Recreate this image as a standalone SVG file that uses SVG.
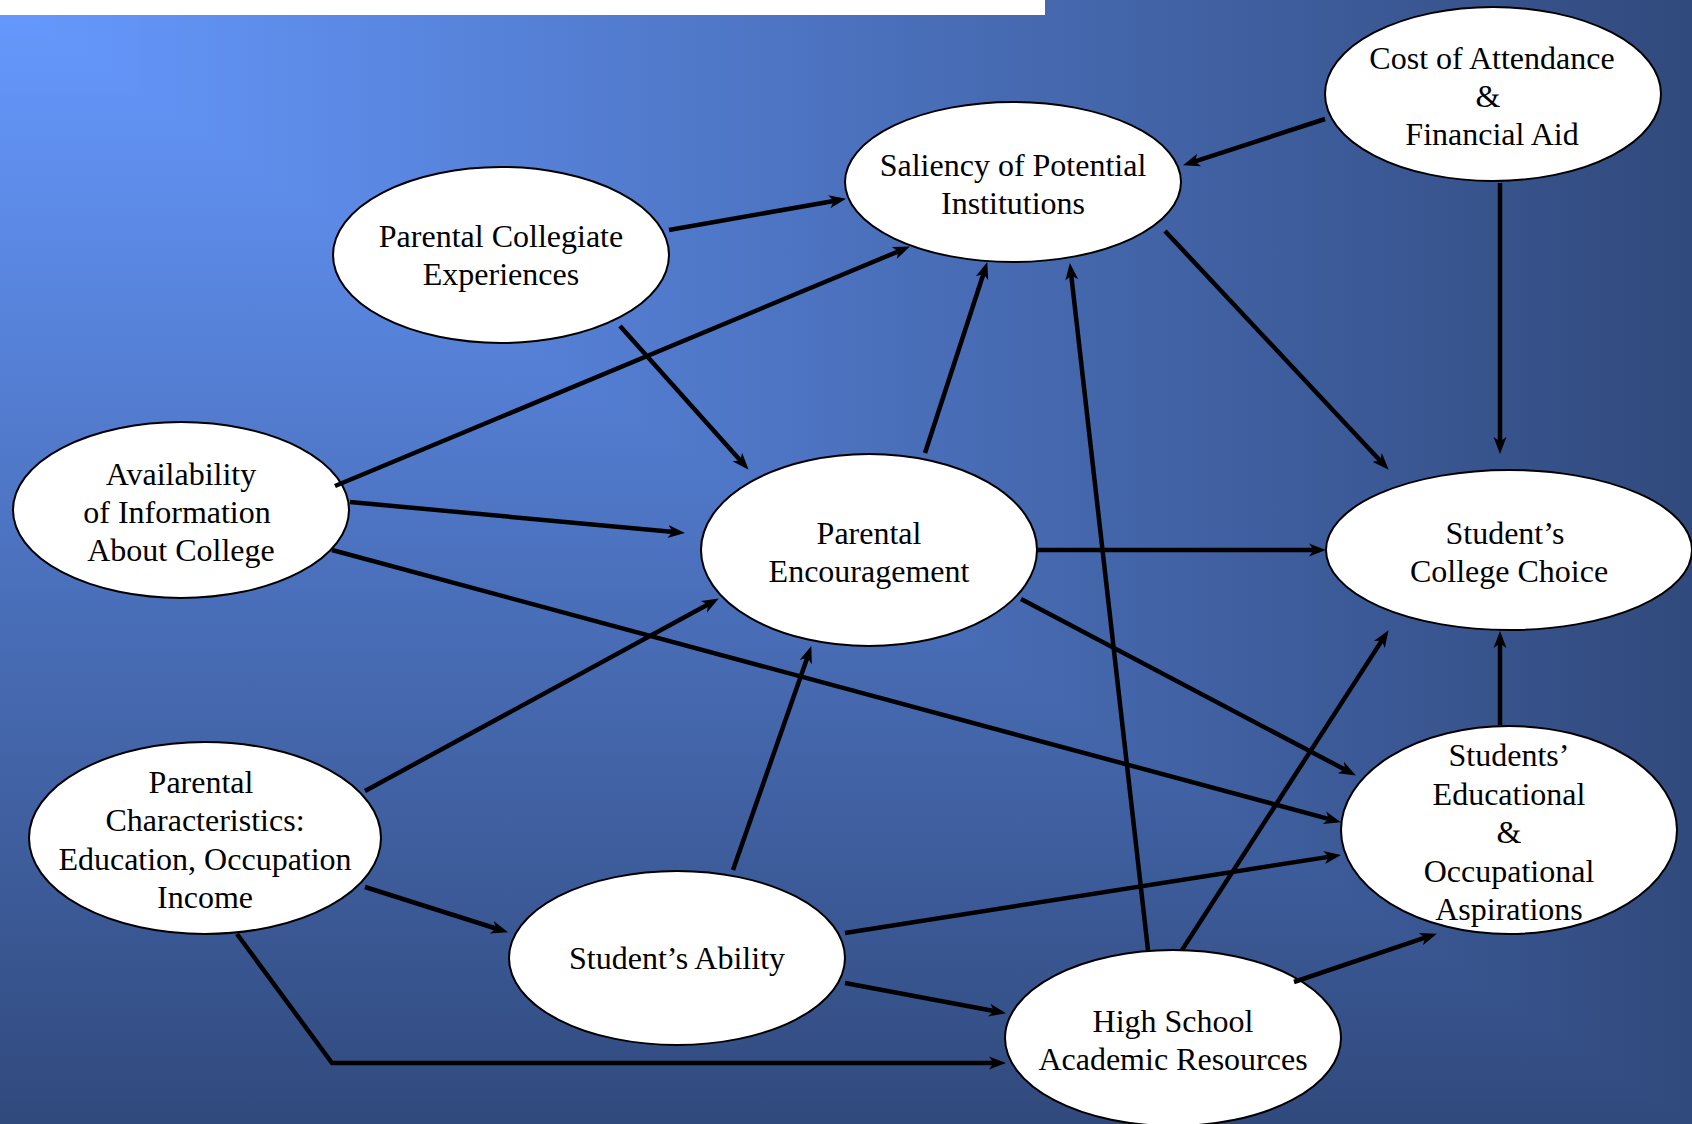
<svg xmlns="http://www.w3.org/2000/svg" width="1692" height="1124" viewBox="0 0 1692 1124">
  <defs>
    <linearGradient id="gy" gradientUnits="userSpaceOnUse" x1="0" y1="0" x2="0" y2="1124">
      <stop offset="0" stop-color="#6699FF"/>
      <stop offset="1" stop-color="#314A7D"/>
    </linearGradient>
    <linearGradient id="gx" gradientUnits="userSpaceOnUse" x1="0" y1="0" x2="1692" y2="0">
      <stop offset="0" stop-color="#6699FF"/>
      <stop offset="1" stop-color="#314A7D"/>
    </linearGradient>
    <marker id="ah" markerUnits="userSpaceOnUse" markerWidth="18" markerHeight="16" viewBox="0 0 18 16" refX="6" refY="8" orient="auto">
      <path d="M17 8 L0 1.5 L4.5 8 L0 14.5 Z" fill="#000"/>
    </marker>
    <style>
      .node ellipse { fill: #FFFFFF; stroke: #000000; stroke-width: 2; }
      .node text { font-family: "Liberation Serif", "Times New Roman", serif; font-size: 32px; fill: #000000; text-anchor: middle; }
      #connectors line, #connectors polyline { stroke: #000000; stroke-width: 4.5; fill: none; marker-end: url(#ah); }
    </style>
  </defs>

  <rect x="0" y="0" width="1692" height="1124" fill="url(#gy)"/>
  <polygon points="0,0 1692,0 1692,1124" fill="url(#gx)"/>
  <rect x="0" y="0" width="1045" height="15" fill="#FFFFFF"/>

  <g id="node-cost" class="node">
    <ellipse cx="1493" cy="94" rx="168" ry="87"/>
    <text x="1492" y="69">Cost of Attendance</text>
    <text x="1488" y="107">&amp;</text>
    <text x="1492" y="145">Financial Aid</text>
  </g>
  <g id="node-saliency" class="node">
    <ellipse cx="1013" cy="182" rx="168" ry="80"/>
    <text x="1013" y="176">Saliency of Potential</text>
    <text x="1013" y="214">Institutions</text>
  </g>
  <g id="node-parental-collegiate" class="node">
    <ellipse cx="501" cy="255" rx="168" ry="88"/>
    <text x="501" y="247">Parental Collegiate</text>
    <text x="501" y="285">Experiences</text>
  </g>
  <g id="node-availability" class="node">
    <ellipse cx="181" cy="510" rx="168" ry="88"/>
    <text x="181" y="485">Availability</text>
    <text x="177" y="523">of Information</text>
    <text x="181" y="561">About College</text>
  </g>
  <g id="node-encouragement" class="node">
    <ellipse cx="869" cy="550" rx="168" ry="96"/>
    <text x="869" y="544">Parental</text>
    <text x="869" y="582">Encouragement</text>
  </g>
  <g id="node-choice" class="node">
    <ellipse cx="1509" cy="550" rx="183" ry="80"/>
    <text x="1505" y="544">Student’s</text>
    <text x="1509" y="582">College Choice</text>
  </g>
  <g id="node-aspirations" class="node">
    <ellipse cx="1509" cy="830" rx="168" ry="104"/>
    <text x="1509" y="766">Students’</text>
    <text x="1509" y="805">Educational</text>
    <text x="1509" y="843">&amp;</text>
    <text x="1509" y="882">Occupational</text>
    <text x="1509" y="920">Aspirations</text>
  </g>
  <g id="node-parental-characteristics" class="node">
    <ellipse cx="205" cy="838" rx="176" ry="96"/>
    <text x="201" y="793">Parental</text>
    <text x="205" y="831">Characteristics:</text>
    <text x="205" y="870">Education, Occupation</text>
    <text x="205" y="908">Income</text>
  </g>
  <g id="node-ability" class="node">
    <ellipse cx="677" cy="958" rx="168" ry="87"/>
    <text x="677" y="969">Student’s Ability</text>
  </g>
  <g id="node-highschool" class="node">
    <ellipse cx="1173" cy="1038" rx="168" ry="88"/>
    <text x="1173" y="1032">High School</text>
    <text x="1173" y="1070">Academic Resources</text>
  </g>

  <g id="connectors">
    <line x1="1325" y1="119" x2="1193.5" y2="161.9"/>
    <line x1="1500" y1="183" x2="1500" y2="443"/>
    <line x1="669" y1="230" x2="835.2" y2="200.7"/>
    <line x1="620" y1="326" x2="741.3" y2="461.5"/>
    <line x1="335" y1="486" x2="899.8" y2="250.8"/>
    <line x1="350" y1="502" x2="674" y2="532.1"/>
    <line x1="332" y1="550" x2="1330.3" y2="819.4"/>
    <line x1="1165" y1="231" x2="1381.2" y2="461.7"/>
    <line x1="925" y1="453" x2="983.9" y2="272.5"/>
    <line x1="1037" y1="550" x2="1315" y2="550"/>
    <line x1="1021" y1="599" x2="1346.2" y2="770.3"/>
    <line x1="1500" y1="725" x2="1500" y2="642"/>
    <line x1="365" y1="791" x2="709.2" y2="603.8"/>
    <line x1="365" y1="887" x2="497.5" y2="929"/>
    <polyline points="237,934 332,1063 995,1063"/>
    <line x1="733" y1="870" x2="807.7" y2="656.4"/>
    <line x1="845" y1="933" x2="1330.1" y2="856.6"/>
    <line x1="845" y1="983" x2="995.2" y2="1011.2"/>
    <line x1="1148" y1="950" x2="1071.1" y2="273.9"/>
    <line x1="1182" y1="950" x2="1382.6" y2="639.4"/>
    <line x1="1294" y1="982" x2="1426.5" y2="937.2"/>
  </g>
</svg>
